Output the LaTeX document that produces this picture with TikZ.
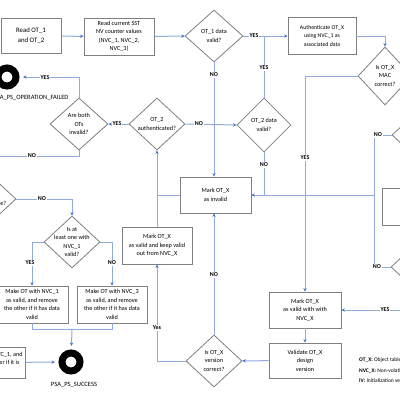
\documentclass[tikz,border=0pt]{standalone}
\usepackage{fontspec}
\setmainfont{Carlito}
\usetikzlibrary{arrows.meta, shapes.geometric, positioning}
\definecolor{linkblue}{RGB}{143,170,220}
\definecolor{tipblue}{RGB}{68,114,196}
\definecolor{boxgray}{RGB}{127,127,127}

\begin{document}
\begin{tikzpicture}[x=1pt,y=-1pt,->,>={Stealth[length=3.5pt,width=3.2pt,color=tipblue]},
			box/.style={draw=boxgray, line width=0.8pt, rectangle, minimum width=70pt, minimum height=36pt, inner sep=1pt, align=center, font=\fontsize{6.2}{8.5}\selectfont},
			decision/.style={draw=boxgray, line width=0.8pt, diamond, minimum width=56pt, minimum height=52pt, inner sep=0pt},
			dtext/.style={align=center, inner sep=0pt, font=\fontsize{6.2}{8.5}\selectfont},
			terminal/.style={circle, draw=black, line width=7pt, minimum size=18pt, inner sep=0pt},
			answer/.style={fill=white, inner sep=0.8pt, font=\bfseries\fontsize{6}{6}\selectfont}]
		\useasboundingbox (0,0) rectangle (400,400);
		%% Nodes
		\begin{scope}
			\node (read_ot) at (31,36) [box, minimum width=60pt, minimum height=35pt, font=\fontsize{6.8}{10}\selectfont] {Read OT\_1\\ and OT\_2};
			\node (read_nvc) at (119,36.5) [box, minimum height=37pt] {Read current SST\\ NV counter values\\ (NVC\_1, NVC\_2,\\ NVC\_3)};
			\node (ot1_valid) at (214,36) [decision, minimum width=58pt, label={[dtext]center:OT\_1 data\\ valid?}] {};
			\node (auth) at (322,36) [box, minimum width=68pt, minimum height=37pt, font=\fontsize{5.8}{8.5}\selectfont] {Authenticate OT\_X\\ using NVC\_1 as\\ associated data};
			\node (mac_ok) at (385,76) [decision, minimum width=54pt, minimum height=58pt, label={[dtext]center:Is OT\_X\\ MAC\\ correct?}] {};
			\node (both_inv) at (79,124) [decision, minimum width=58pt, label={[dtext]center:Are both\\ OTs\\ invalid?}] {};
			\node (ot2_auth) at (157,124) [decision, label={[dtext]center:OT\_2\\ authenticated?}] {};
			\node (ot2_valid) at (264,125) [decision, minimum width=54pt, minimum height=54pt, label={[dtext]center:OT\_2 data\\ valid?}] {};
			\node (ps_failed) at (7,77) [terminal] {};
			\node (failed_title) at (31,98) [font=\fontsize{6.5}{7}\selectfont] {PSA\_PS\_OPERATION\_FAILED};
		\end{scope}

		% Right edge
		\begin{scope}
			\node (right_top) at (420,135) [decision] {};
			\node (right_low) at (419,267) [decision] {};
			\node (fu_box) at (416,206.5) [box, minimum width=68pt, minimum height=37pt] {Full update\\ valid\\ state};
		\end{scope}

		% Middle
		\begin{scope}
			\node (mark_inv) at (215.5,195) [box, minimum width=71pt] {Mark OT\_X\\ as invalid};
			\node (mark_keep) at (157,245.5) [box, minimum height=37pt] {Mark OT\_X\\ as valid and keep valid\\ out from NVC\_X};
			\node (same_ot) at (-12,199) [decision, label={[dtext]center:Are both\\ OTs the same?}] {};
			\node (one_valid) at (72,242) [decision, label={[dtext]center:Is at\\ least one with\\ NVC\_1\\ valid?}] {};
		\end{scope}

		% Bottom
		\begin{scope}
			\node (make_a) at (32,304.5) [box, minimum width=72pt, minimum height=37pt] {Make OT with NVC\_1\\ as valid, and remove\\ the other if it has data\\ valid};
			\node (make_b) at (112,304.5) [box, minimum height=37pt] {Make OT with NVC\_3\\ as valid, and remove\\ the other if it has data\\ valid};
			\node (low_left) at (-10,362.5) [box, minimum height=31pt] {Mark OT with NVC\_1, and\\ remove the other if it is\\ invalid};
			\node (ps_success) at (71,362) [terminal] {};
			\node (success_title) at (74,385) [font=\fontsize{6.5}{7}\selectfont] {PSA\_PS\_SUCCESS};
			\node (valid_nvc) at (305,310) [box, minimum width=72pt] {Mark OT\_X\\ as valid with with\\ NVC\_X};
			\node (validate) at (305,360.5) [box, minimum width=72pt, minimum height=35pt] {Validate OT\_X\\ design\\ version};
			\node (version_ok) at (214,361) [decision, label={[dtext]center:Is OT\_X\\ version\\ correct?}] {};
			\node (legend) at (359,370.5) [anchor=west, align=left, inner sep=0pt, font=\fontsize{5.5}{10.5}\selectfont] {\textbf{OT\_X:} Object table X\\ \textbf{NVC\_X:} Non-volatile counter X\\ \textbf{IV:} Initialization vector};
		\end{scope}

		\coordinate (no_out) at (-5,156);
		\coordinate (no_join) at (374,195);
		\coordinate (make_join) at (72,329);

		%% Edges
		\begin{scope}[linkblue, line width=1pt]
			\draw (read_ot) -- (read_nvc);
			\draw (read_nvc) -- (ot1_valid);
			\draw (ot1_valid) -- (auth);
			\draw[-] (ot2_valid.north) -- (ot2_valid.north |- ot1_valid.east);
			\draw (auth.east) -| (mac_ok.north);
			\draw (mac_ok.west) -| (valid_nvc.north);
			\draw (ot1_valid.south) -- (ot1_valid.south |- mark_inv.north);
			\draw (ot2_auth.east) -- (ot2_valid.west);
			\draw[-] (ot2_valid.south) -- (ot2_valid.south |- mark_inv.east);
			\draw[-] (right_top.west) -| (no_join);
			\draw[-] (right_low.west) -| (no_join);
			\draw (no_join) -- (mark_inv.east);
			\draw (mark_inv.west) -| (ot2_auth.south);
			\draw[-] (mark_keep.north) -- (mark_keep.north |- mark_inv.west);
			\draw (ot2_auth.west) -- (both_inv.east);
			\draw[shorten >=3.5pt] (both_inv.north) |- (ps_failed);
			\draw[-] (both_inv.south) |- (no_out);
			\draw (same_ot.east) -| (one_valid.north);
			\draw (one_valid.west) -| (make_a.north);
			\draw (one_valid.east) -| (make_b.north);
			\draw[-] (make_a.south) |- (make_join);
			\draw[-] (make_b.south) |- (make_join);
			\draw[shorten >=3.5pt] (make_join) -- (ps_success);
			\draw[shorten >=3.5pt] (low_left) -- (ps_success);
			\draw (right_low.south) |- (valid_nvc.east);
			\draw (valid_nvc) -- (validate);
			\draw (validate) -- (version_ok);
			\draw (version_ok.west) -| (mark_keep.south);
			\draw (version_ok.north) -- (version_ok.north |- mark_inv.south);
		\end{scope}

		% Answers
		\begin{scope}
			\node (yes_1) at (254,36) [answer] {YES};
			\node (yes_2) at (264,68) [answer] {YES};
			\node (no_1) at (214,75) [answer] {NO};
			\node (no_2) at (199,124) [answer] {NO};
			\node (yes_3) at (117,124) [answer] {YES};
			\node (yes_4) at (45,78) [answer] {YES};
			\node (no_3) at (32,156) [answer] {NO};
			\node (no_4) at (42,199) [answer] {NO};
			\node (yes_5) at (30,263) [answer] {YES};
			\node (no_5) at (112,263) [answer] {NO};
			\node (no_6) at (264,165) [answer] {NO};
			\node (yes_6) at (305,158) [answer] {YES};
			\node (no_7) at (378,135) [answer] {NO};
			\node (no_8) at (377,267) [answer] {NO};
			\node (yes_7) at (385,310) [answer] {YES};
			\node (no_9) at (214,275) [answer] {NO};
			\node (yes_8) at (157,328) [answer] {Yes};
		\end{scope}
	\end{tikzpicture}
\end{document}
